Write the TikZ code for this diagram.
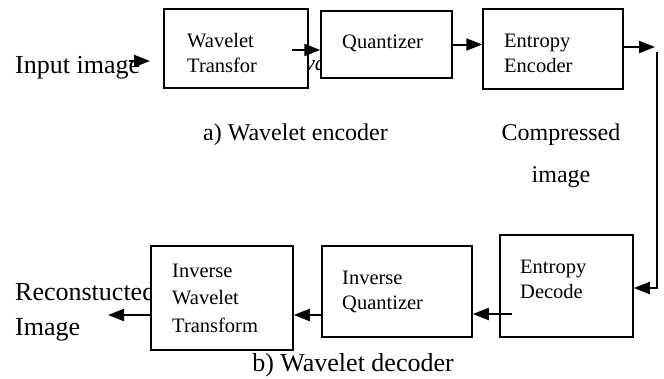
\documentclass[tikz,border=0pt]{standalone}
\usepackage{fontspec}
\setmainfont{Liberation Serif}
\usetikzlibrary{arrows.meta}
\usetikzlibrary{positioning}
\tikzset{>={Triangle[length=16pt,width=12pt]}}
\tikzset{
  block/.style={draw, line width=1.5pt, fill=white, inner sep=0pt},
  blocktext/.style={align=left, inner sep=0pt, anchor=base west,
    font=\fontsize{20.5}{25}\selectfont},
  sidetext/.style={align=left, inner sep=0pt, anchor=base west,
    font=\fontsize{26}{35}\selectfont},
  captext/.style={align=center, inner sep=0pt, anchor=base,
    font=\fontsize{24}{42}\selectfont},
  flow/.style={->, line width=2pt}
}

\begin{document}
\begin{tikzpicture}[x=1pt, y=-1pt]
  \useasboundingbox (0,0) rectangle (664,378);

  % texts that the blocks partly cover (base = last line)
  \node [sidetext] (inLabel) at (15,73) {Input image};
  \node [sidetext] (outLabel) at (15,335) {Reconstucted\\Image};
  \node [blocktext, font=\fontsize{22}{25}\selectfont\itshape] (stray) at (305,70) {va};

  % encoder
  \node [block, minimum width=144pt, minimum height=79pt] (wt) at (236,48.5) {};
  \node [block, minimum width=131pt, minimum height=67pt] (qz) at (386.5,44.5) {};
  \node [block, minimum width=140pt, minimum height=80pt] (ee) at (553,49) {};
  \node [blocktext] (wtText) at (187,72) {Wavelet\\Transfor};
  \node [blocktext] (qzText) at (342,48) {Quantizer};
  \node [blocktext] (eeText) at (504,72) {Entropy\\Encoder};

  % decoder
  \node [block, minimum width=133pt, minimum height=102pt] (ed) at (566.5,286) {};
  \node [block, minimum width=150pt, minimum height=91pt] (iq) at (397,291.5) {};
  \node [block, minimum width=142pt, minimum height=104pt] (iwt) at (222,298) {};
  \node [blocktext] (edText) at (520,298) {Entropy\\Decode};
  \node [blocktext] (iqText) at (342,309) {Inverse\\Quantizer};
  \node [blocktext, font=\fontsize{20.5}{27.5}\selectfont] (iwtText) at (172,332) {Inverse\\Wavelet\\Transform};

  % captions
  \node [captext] (encCap) at (295.5,140) {a) Wavelet encoder};
  \node [captext] (compCap) at (561,182) {Compressed\\image};
  \node [captext, font=\fontsize{26}{30}\selectfont] (decCap) at (353,371) {b) Wavelet decoder};

  % connectors
  \coordinate (inTail) at (129,61);
  \coordinate (inHead) at (150,61);
  \coordinate (wtOut) at (292,50);
  \coordinate (eeHead) at (655,47);
  \coordinate (vTop) at (657,52);
  \coordinate (vBot) at (657,288);
  \coordinate (edOut) at (512,314);
  \coordinate (outHead) at (108,315);

  \draw [flow] (inTail) -- (inHead);
  \draw [flow] (wtOut) -- (wtOut -| qz.west);
  \draw [flow] (qz.east) -- (qz.east -| ee.west);
  \draw [flow] (ee.east |- 0,47) -- (eeHead);
  \draw [flow] (vTop) -- (vBot) -- (vBot -| ed.east);
  \draw [flow] (edOut) -- (edOut -| iq.east);
  \draw [flow] (iq.west |- 0,315) -- (iwt.east |- 0,315);
  \draw [flow] (iwt.west |- outHead) -- (outHead);
\end{tikzpicture}
\end{document}
